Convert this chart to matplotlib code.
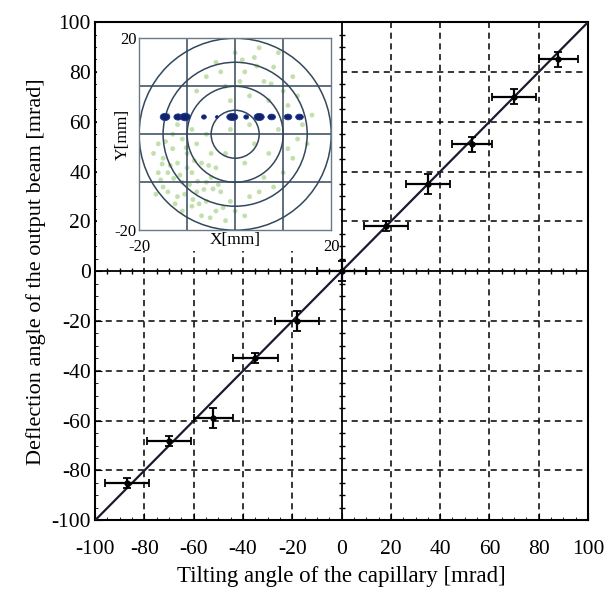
import matplotlib.pyplot as plt
from matplotlib.patches import Circle, Rectangle, Ellipse

plt.rcParams['font.family'] = ['Liberation Serif', 'DejaVu Serif']
plt.rcParams['axes.unicode_minus'] = False

# main data: tilting angle vs deflection angle [mrad]
tilt = [-87, -70, -52, -35, -18, 0, 18, 35, 53, 70, 88]
defl = [-85, -68, -59, -35, -20, 0, 18, 35, 51, 70, 85]
tilt_err = [9, 9, 8, 9, 9, 10, 9, 9, 8, 9, 8]
defl_err = [2, 2, 4, 2, 4, 4, 2, 4, 3, 3, 3]
ticks = [-100, -80, -60, -40, -20, 0, 20, 40, 60, 80, 100]

# inset: beam spots on the screen [mm]
spot_x = [-14.6, -11.9, -10.4, -6.5, -3.8, -0.6, 2.3, 5.0, 7.6, 11.0, 13.4]
spot_y = [3.6] * 11
spot_w = [2.0, 1.7, 2.1, 1.0, 0.6, 2.3, 1.0, 2.1, 1.6, 1.6, 1.6]
spot_h = [1.5, 1.3, 1.6, 0.9, 0.6, 1.5, 0.9, 1.5, 1.2, 1.2, 1.2]

bg_x = [-16, -15, -14, -13, -12, -11, -10, -9, -8, -7, -6, -5, -4, -12, -14, -9, -7, -3,
        -2, -11, -13, -16, -8, -5, -10, -6, -15, -11, -4, -1, 0, 2, 3, -17, -12, -9, -14, -6,
        -6, -4, -2, 0, 2, 4, 6, 8, 10, 12, 3, -1, 5, 9, -8, 11, 7, 1, -3, 13,
        14, 15, 12, 16, 10, 13, 9, 11,
        -2, 2, 4, 6, -1, 3, 7, 5, 8,
        -13.5, -10.5, -8.5, -6.5, -15.5, -12.5, -9.5, -7.5, -5.5, -11.5, -3.5, -16.5,
        -14.5, -12.8, -10.2, -7.8, -4.6, -2.5, 1.5, 4.5, 7.5, -5.2, -8.8, -15.2]
bg_y = [-2, -5, -8, -3, -6, -10, -4, -8, -12, -6, -14, -9, -16, -13, -12, -15, -17, -12,
        -18, -1, 0, -8, -2, -4, -7, -10, -11, -16, -7, -14, -16, -17, -13, -4, 2, 1, 4, 0,
        12, 15, 10, 17, 13, 16, 11, 14, 9, 12, 8, 7, 18, 17, 9, 6, 7, 11, 13, 8,
        2, -2, -5, 4, -8, -1, 1, -3,
        -4, -6, -2, -9, 1, 2, -4, -12, -11,
        -6.5, -12.5, -5.5, -11.5, -9.5, -14.5, -10.5, -14.5, -6.5, -8.5, -10.5, -12.5,
        -1.5, -9.2, -2.8, -9.8, -11.4, -15.3, 15.5, 14.2, 10.5, -17.4, -13.6, -6.2]

fig = plt.figure(figsize=(6.10, 5.98), dpi=100)
ax = fig.add_axes([0.156, 0.130, 0.808, 0.833])

ax.set_xlim(-100, 100)
ax.set_ylim(-100, 100)
ax.set_xticks(ticks)
ax.set_yticks(ticks)
ax.set_xticks(range(-100, 101, 5), minor=True)
ax.set_yticks(range(-100, 101, 5), minor=True)
ax.tick_params(which='both', direction='in', labelsize=15.5, top=False, right=False)
ax.tick_params(which='major', length=5)
ax.tick_params(which='minor', length=2)
ax.tick_params(axis='x', which='major', pad=14)
ax.tick_params(axis='y', which='major', pad=3)
for s in ax.spines.values():
    s.set_linewidth(1.5)

# dashed grid, solid zero lines
for t in ticks[1:-1]:
    if t == 0:
        continue
    ax.axvline(t, color='black', lw=1.1, ls=(0, (4, 3)), zorder=1)
    ax.axhline(t, color='black', lw=1.1, ls=(0, (4, 3)), zorder=1)
ax.axvline(0, color='black', lw=1.3, zorder=1)
ax.axhline(0, color='black', lw=1.3, zorder=1)
minor = [m for m in range(-95, 100, 5) if m % 20 != 0]
ax.plot(minor, [0] * len(minor), ls='none', marker='|', ms=4, color='black', zorder=1)
ax.plot([0] * len(minor), minor, ls='none', marker='_', ms=4, color='black', zorder=1)

ax.plot([-100, 100], [-100, 100], color='#1a1a2e', lw=1.6, zorder=3)
ax.errorbar(tilt, defl, xerr=tilt_err, yerr=defl_err, fmt='o', ms=3.5,
            color='black', ecolor='black', elinewidth=1.6, capsize=3, capthick=1.3, zorder=4)

# white area behind the inset
ax.add_patch(Rectangle((-99.3, 8), 98, 91.5, facecolor='white', edgecolor='none', zorder=2))

ax.set_xlabel('Tilting angle of the capillary [mrad]', fontsize=16.5, labelpad=5)
ax.set_ylabel('Deflection angle of the output beam [mrad]', fontsize=16, labelpad=4)

# inset
ins = fig.add_axes([0.228, 0.615, 0.315, 0.321])
ins.set_xlim(-20, 20)
ins.set_ylim(-20, 20)
ins.scatter(bg_x, bg_y, s=12, color='#b4d896', alpha=0.8, edgecolors='none', zorder=1)
for g in [-10, 0, 10]:
    ins.axvline(g, color='#34485a', lw=1.1, zorder=2)
    ins.axhline(g, color='#34485a', lw=1.1, zorder=2)
for r in [5, 10, 15, 20]:
    ins.add_patch(Circle((0, 0), r, fill=False, edgecolor='#34485a', lw=1.1, zorder=2))
for x, y, w, h in zip(spot_x, spot_y, spot_w, spot_h):
    ins.add_patch(Ellipse((x, y), w, h, facecolor='#12236b', edgecolor='#1d3a9a', lw=0.6, zorder=3))
ins.set_xticks([-20, 20])
ins.set_yticks([-20, 20])
ins.tick_params(length=0, labelsize=12)
ins.tick_params(axis='x', pad=6)
ins.tick_params(axis='y', pad=2)
for s in ins.spines.values():
    s.set_color('#6a7a88')
    s.set_linewidth(1.0)
ins.set_xlabel('X[mm]', fontsize=12.5, labelpad=-16)
ins.set_ylabel('Y[mm]', fontsize=12.5, labelpad=-12)

fig.savefig('out.png', dpi=100)
